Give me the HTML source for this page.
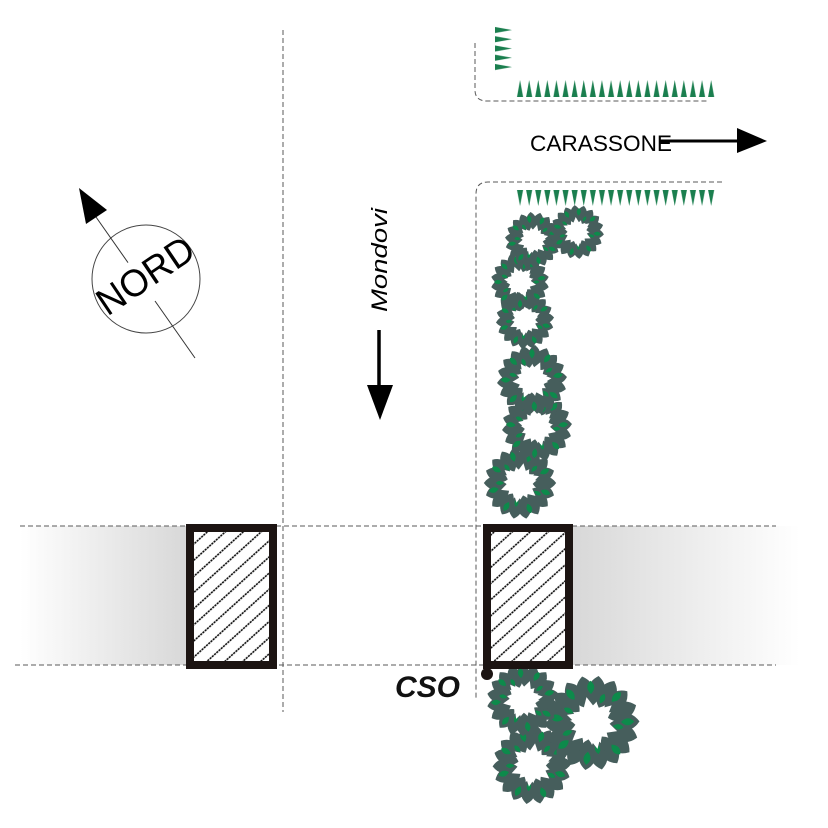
<!DOCTYPE html>
<html>
<head>
<meta charset="utf-8">
<style>
html,body{margin:0;padding:0;background:#fff;}
svg{display:block;}
</style>
</head>
<body>
<svg width="828" height="828" viewBox="0 0 828 828" xmlns="http://www.w3.org/2000/svg">
<defs>
  <linearGradient id="gl" x1="20" y1="0" x2="186" y2="0" gradientUnits="userSpaceOnUse">
    <stop offset="0" stop-color="#ffffff"/>
    <stop offset="1" stop-color="#d8d8d8"/>
  </linearGradient>
  <linearGradient id="gr" x1="573" y1="0" x2="800" y2="0" gradientUnits="userSpaceOnUse">
    <stop offset="0" stop-color="#d8d8d8"/>
    <stop offset="1" stop-color="#ffffff"/>
  </linearGradient>
  <pattern id="hatch" width="12" height="12" patternUnits="userSpaceOnUse" patternTransform="rotate(-42)">
    <line x1="0" y1="6" x2="12" y2="6" stroke="#000" stroke-width="1.5" stroke-dasharray="2.2 0.8"/>
  </pattern>
  <pattern id="triUp" x="515.5" y="80" width="9.1" height="17" patternUnits="userSpaceOnUse">
    <polygon points="1.5,17 7.6,17 4.55,0" fill="#1b7f4f"/>
  </pattern>
  <pattern id="triDown" x="515.5" y="190" width="9.1" height="16" patternUnits="userSpaceOnUse">
    <polygon points="1.5,0 7.6,0 4.55,16" fill="#1b7f4f"/>
  </pattern>
  <pattern id="triRight" x="495" y="25.5" width="17" height="9.25" patternUnits="userSpaceOnUse">
    <polygon points="0,1.5 0,7.5 17,4.5" fill="#1b7f4f"/>
  </pattern>

  <path id="lo" d="M0,-54Q18,-41 0,-26Q-18,-41 0,-54Z"/>
  <path id="li" d="M0,-42Q15,-31 0,-19Q-15,-31 0,-42Z"/>
  <path id="lg" d="M0,-48Q8,-41 0,-33Q-8,-41 0,-48Z"/>
  <path id="lg2" d="M0,-36Q6,-31 0,-24Q-6,-31 0,-36Z"/>

  <g id="tree">
    <circle cx="0" cy="0" r="37" fill="none" stroke="#465e5c" stroke-width="18"/>
    <g fill="#465e5c">
      <use href="#lo"/>
      <use href="#lo" transform="rotate(20)"/>
      <use href="#lo" transform="rotate(40)"/>
      <use href="#lo" transform="rotate(60)"/>
      <use href="#lo" transform="rotate(80)"/>
      <use href="#lo" transform="rotate(100)"/>
      <use href="#lo" transform="rotate(120)"/>
      <use href="#lo" transform="rotate(140)"/>
      <use href="#lo" transform="rotate(160)"/>
      <use href="#lo" transform="rotate(180)"/>
      <use href="#lo" transform="rotate(200)"/>
      <use href="#lo" transform="rotate(220)"/>
      <use href="#lo" transform="rotate(240)"/>
      <use href="#lo" transform="rotate(260)"/>
      <use href="#lo" transform="rotate(280)"/>
      <use href="#lo" transform="rotate(300)"/>
      <use href="#lo" transform="rotate(320)"/>
      <use href="#lo" transform="rotate(340)"/>
      <use href="#li" transform="rotate(12)"/>
      <use href="#li" transform="rotate(36)"/>
      <use href="#li" transform="rotate(60)"/>
      <use href="#li" transform="rotate(84)"/>
      <use href="#li" transform="rotate(108)"/>
      <use href="#li" transform="rotate(132)"/>
      <use href="#li" transform="rotate(156)"/>
      <use href="#li" transform="rotate(180)"/>
      <use href="#li" transform="rotate(204)"/>
      <use href="#li" transform="rotate(228)"/>
      <use href="#li" transform="rotate(252)"/>
      <use href="#li" transform="rotate(276)"/>
      <use href="#li" transform="rotate(300)"/>
      <use href="#li" transform="rotate(324)"/>
      <use href="#li" transform="rotate(348)"/>
    </g>
    <g fill="#0d8a4b">
      <use href="#lg" transform="rotate(10)"/>
      <use href="#lg" transform="rotate(55)"/>
      <use href="#lg" transform="rotate(100)"/>
      <use href="#lg" transform="rotate(150)"/>
      <use href="#lg" transform="rotate(200)"/>
      <use href="#lg" transform="rotate(245)"/>
      <use href="#lg" transform="rotate(290)"/>
      <use href="#lg" transform="rotate(335)"/>
      <use href="#lg2" transform="rotate(35)"/>
      <use href="#lg2" transform="rotate(110)"/>
      <use href="#lg2" transform="rotate(180)"/>
      <use href="#lg2" transform="rotate(260)"/>
      <use href="#lg2" transform="rotate(310)"/>
    </g>
    <polygon fill="#ffffff" points="0,-30 8,-13.9 26,-15 16,0 26,15 8,13.9 0,30 -8,13.9 -26,15 -16,0 -26,-15 -8,-13.9"/>
  </g>
</defs>

<!-- gradient bands -->
<rect x="20" y="526" width="166" height="139" fill="url(#gl)"/>
<rect x="573" y="526" width="227" height="139" fill="url(#gr)"/>

<!-- dashed street lines -->
<g fill="none" stroke="#5a5a5a" stroke-width="1" stroke-dasharray="5 3">
  <line x1="20" y1="526" x2="776" y2="526"/>
  <line x1="15" y1="665" x2="776" y2="665"/>
  <line x1="283" y1="30" x2="283" y2="712"/>
  <path d="M475,43 V90 Q475,101 487,101 H707"/>
  <path d="M722,182 H488 Q476,182 476,194 V700"/>
</g>

<!-- green triangles -->
<rect x="515.5" y="80" width="200.2" height="17" fill="url(#triUp)"/>
<rect x="515.5" y="190" width="200.2" height="16" fill="url(#triDown)"/>
<rect x="495" y="25.5" width="17" height="46.25" fill="url(#triRight)"/>

<!-- CARASSONE -->
<text x="530" y="151" font-family="Liberation Sans, Arial, sans-serif" font-size="22.5" fill="#000" textLength="142" lengthAdjust="spacingAndGlyphs">CARASSONE</text>
<line x1="660" y1="141" x2="742" y2="141" stroke="#000" stroke-width="3"/>
<polygon points="737,128 767,141 737,153" fill="#000"/>

<!-- Mondovi -->
<text transform="translate(387,312) rotate(-90)" x="0" y="0" font-family="Liberation Sans, Arial, sans-serif" font-style="italic" font-size="22" fill="#000" textLength="104" lengthAdjust="spacingAndGlyphs">Mondovi</text>
<line x1="379" y1="330" x2="379" y2="390" stroke="#000" stroke-width="3.5"/>
<polygon points="367,385 393,385 380,420" fill="#000"/>

<!-- NORD compass -->
<circle cx="146" cy="279" r="54" fill="none" stroke="#444" stroke-width="1"/>
<line x1="96" y1="217" x2="128" y2="262.6" stroke="#333" stroke-width="1"/>
<line x1="155" y1="301" x2="195" y2="358" stroke="#333" stroke-width="1"/>
<polygon points="79,188 86,224 107,210" fill="#000"/>
<text transform="translate(145,275) rotate(-34)" x="0" y="13.6" text-anchor="middle" font-family="Liberation Sans, Arial, sans-serif" font-size="38" fill="#000" textLength="109" lengthAdjust="spacingAndGlyphs">NORD</text>

<!-- trees -->
<use href="#tree" transform="translate(520,483) scale(0.67) rotate(10)"/>
<use href="#tree" transform="translate(537,427) scale(0.65) rotate(-15)"/>
<use href="#tree" transform="translate(532,380) scale(0.65) rotate(25)"/>
<use href="#tree" transform="translate(525,320) scale(0.54) rotate(5)"/>
<use href="#tree" transform="translate(520,282) scale(0.54) rotate(-20)"/>
<use href="#tree" transform="translate(533,240) scale(0.52) rotate(15)"/>
<use href="#tree" transform="translate(577,232) scale(0.5) rotate(-5)"/>

<use href="#tree" transform="translate(532,765) scale(0.73) rotate(8)"/>
<use href="#tree" transform="translate(592,723) scale(0.88) rotate(-12)"/>
<use href="#tree" transform="translate(523,700) scale(0.67) rotate(20)"/>

<!-- buildings -->
<rect x="190" y="528" width="83" height="137" fill="#fff"/>
<rect x="190" y="528" width="83" height="137" fill="url(#hatch)" stroke="#1c1412" stroke-width="8"/>
<rect x="487" y="528" width="82" height="137" fill="#fff"/>
<rect x="487" y="528" width="82" height="137" fill="url(#hatch)" stroke="#1c1412" stroke-width="8"/>

<!-- CSO -->
<circle cx="487" cy="674" r="6" fill="#1c1412"/>
<text x="395" y="697" font-family="Liberation Sans, Arial, sans-serif" font-weight="bold" font-style="italic" font-size="30" fill="#111">CSO</text>
</svg>
</body>
</html>
